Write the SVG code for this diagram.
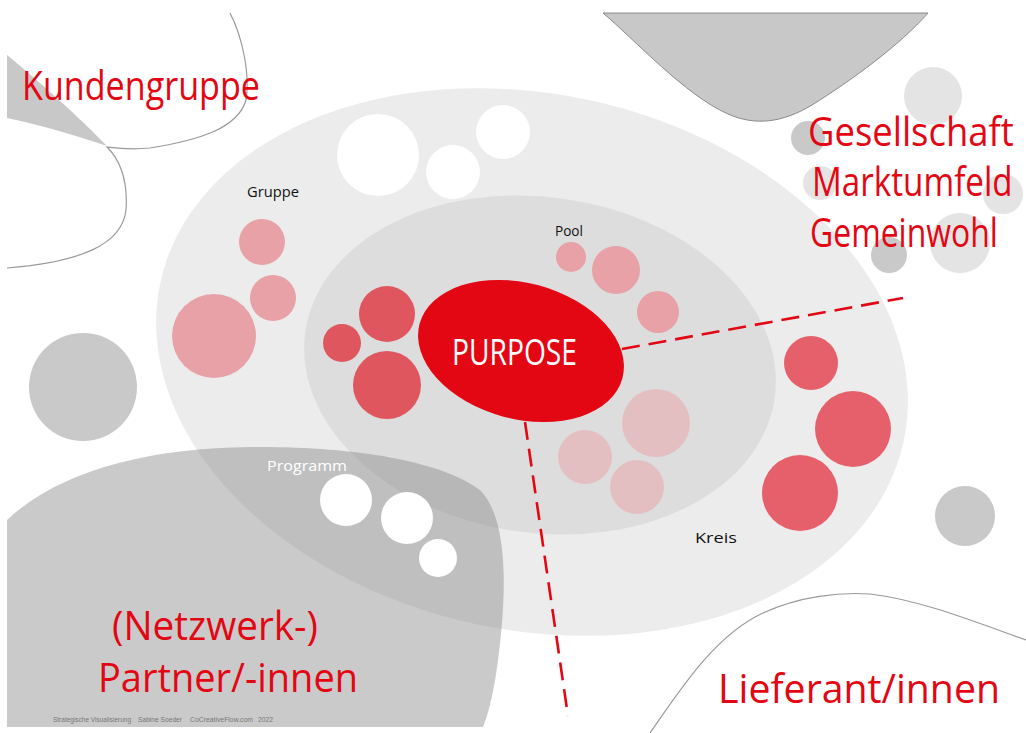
<svg xmlns="http://www.w3.org/2000/svg" width="1026" height="733" viewBox="0 0 1026 733">
<defs>
<style>
.bg{fill:#ffffff}
.blob{fill:#c8c8c8}
.outline{fill:none;stroke:#9a9a9a;stroke-width:1.2}
.lgc{fill:#e4e4e4}
.dgc{fill:#c9c9c9}
.outer{fill:#ececec}
.inner{fill:#dddddd}
.pink{fill:#e8a1a6}
.red{fill:#e0565f}
.kreis{fill:#e5606a}
.pale{fill:#e4bfc2}
.white{fill:#ffffff}
.purpose{fill:#e30613}
.dash{fill:none;stroke:#e30613;stroke-width:2.6;stroke-dasharray:18 9}
.big{font-family:"Open Sans","Noto Sans","Liberation Sans",sans-serif;fill:#e30613;font-size:40px}
.lbl{font-family:"Open Sans","Noto Sans","Liberation Sans",sans-serif;fill:#111;font-size:15px}
.foot{font-family:"Liberation Sans",sans-serif;fill:#777;font-size:7px}
</style>
</defs>
<rect class="bg" x="0" y="0" width="1026" height="733"/>

<g id="background-shapes">
<path class="blob" d="M7,55 C40,82 80,118 107,146 C75,135 40,125 7,118 Z"/>
<path class="outline" d="M230,13 C243,38 250,75 246,100 C238,128 200,140 150,148 C130,150 115,148 107,147 C120,160 128,180 126,210 C122,245 80,262 7,268"/>
<path class="blob" stroke="#8a8a8a" stroke-width="1" d="M603,13 C635,40 685,95 728,114 C755,126 782,123 812,105 C852,80 900,45 928,13 Z"/>
<circle class="lgc" cx="933" cy="96" r="29"/>
<circle class="lgc" cx="820" cy="183" r="17"/>
<circle class="lgc" cx="1003" cy="194" r="20"/>
<circle class="lgc" cx="960" cy="243" r="30"/>
<circle class="dgc" cx="808" cy="138" r="17"/>
<circle class="dgc" cx="889" cy="255" r="18"/>
<g transform="rotate(12 532 362)"><ellipse class="outer" cx="532" cy="362" rx="380" ry="268"/></g>
<g transform="rotate(8 540 365)"><ellipse class="inner" cx="540" cy="365" rx="237" ry="168"/></g>
<path fill="#8a8a8a" fill-opacity="0.45" d="M7,727 L7,520 C60,470 150,448 250,447 C350,446 440,460 480,490 C510,520 506,600 498,660 C493,700 486,720 483,727 Z"/>
<path class="outline" d="M650,733 C680,690 715,635 763,613 C800,596 840,592 870,594 C920,600 970,620 1026,640"/>
<circle class="dgc" cx="83" cy="387" r="54"/>
<circle class="dgc" cx="965" cy="516" r="30"/>
</g>

<g id="connectors">
<line class="dash" x1="622" y1="349" x2="903" y2="298"/>
<line class="dash" x1="525" y1="422" x2="568" y2="716"/>
</g>

<g id="node-top-white">
<circle class="white" cx="378" cy="155" r="41"/>
<circle class="white" cx="453" cy="172" r="27"/>
<circle class="white" cx="503" cy="132" r="27"/>
</g>

<g id="node-gruppe">
<text class="lbl" x="247" y="197" textLength="52" lengthAdjust="spacingAndGlyphs">Gruppe</text>
<circle class="pink" cx="262" cy="242" r="23"/>
<circle class="pink" cx="273" cy="298" r="23"/>
<circle class="pink" cx="214" cy="336" r="42"/>
</g>

<g id="node-inner-left">
<circle class="red" cx="387" cy="314" r="28"/>
<circle class="red" cx="342" cy="343" r="19"/>
<circle class="red" cx="387" cy="385" r="34"/>
</g>

<g id="node-pool">
<text class="lbl" x="555" y="236" textLength="28" lengthAdjust="spacingAndGlyphs">Pool</text>
<circle class="pink" cx="571" cy="257" r="15"/>
<circle class="pink" cx="616" cy="270" r="24"/>
<circle class="pink" cx="658" cy="312" r="21"/>
</g>

<g id="node-inner-bottom">
<circle class="pale" cx="656" cy="423" r="34"/>
<circle class="pale" cx="585" cy="457" r="27"/>
<circle class="pale" cx="637" cy="487" r="27"/>
</g>

<g id="node-kreis">
<circle class="kreis" cx="811" cy="363" r="27"/>
<circle class="kreis" cx="853" cy="429" r="38"/>
<circle class="kreis" cx="800" cy="493" r="38"/>
<text class="lbl" x="695" y="543" textLength="42" lengthAdjust="spacingAndGlyphs">Kreis</text>
</g>

<g id="node-programm">
<text class="lbl" x="267" y="471" style="fill:#ffffff" textLength="80" lengthAdjust="spacingAndGlyphs">Programm</text>
<circle class="white" cx="346" cy="500" r="26"/>
<circle class="white" cx="407" cy="518" r="26"/>
<circle class="white" cx="438" cy="558" r="19"/>
</g>

<g id="node-purpose">
<ellipse class="purpose" cx="521" cy="351" rx="105" ry="68" transform="rotate(15 521 351)"/>
<text x="452" y="365" font-family="'Open Sans','Noto Sans',sans-serif" font-size="36" fill="#ffffff" textLength="125" lengthAdjust="spacingAndGlyphs">PURPOSE</text>
</g>

<g id="node-kundengruppe">
<text class="big" x="22" y="100" textLength="238" lengthAdjust="spacingAndGlyphs">Kundengruppe</text>
</g>

<g id="node-gesellschaft">
<text class="big" transform="translate(808,146) scale(0.85,1)" x="0" y="0" textLength="242" lengthAdjust="spacingAndGlyphs">Gesellschaft</text>
<text class="big" transform="translate(812,196) scale(0.85,1)" x="0" y="0" textLength="236" lengthAdjust="spacingAndGlyphs">Marktumfeld</text>
<text class="big" transform="translate(810,247) scale(0.85,1)" x="0" y="0" textLength="221" lengthAdjust="spacingAndGlyphs">Gemeinwohl</text>
</g>

<g id="node-partner">
<text class="big" x="112" y="640" textLength="206" lengthAdjust="spacingAndGlyphs">(Netzwerk-)</text>
<text class="big" x="98" y="692" textLength="260" lengthAdjust="spacingAndGlyphs">Partner/-innen</text>
</g>

<g id="node-lieferant">
<text class="big" x="718" y="703" textLength="282" lengthAdjust="spacingAndGlyphs">Lieferant/innen</text>
</g>

<g id="footer">
<text class="foot" x="53" y="722" textLength="78" lengthAdjust="spacingAndGlyphs">Strategische Visualisierung</text>
<text class="foot" x="138" y="722" textLength="44" lengthAdjust="spacingAndGlyphs">Sabine Soeder</text>
<text class="foot" x="190" y="722" textLength="63" lengthAdjust="spacingAndGlyphs">CoCreativeFlow.com</text>
<text class="foot" x="258" y="722" textLength="15" lengthAdjust="spacingAndGlyphs">2022</text>
</g>
</svg>
